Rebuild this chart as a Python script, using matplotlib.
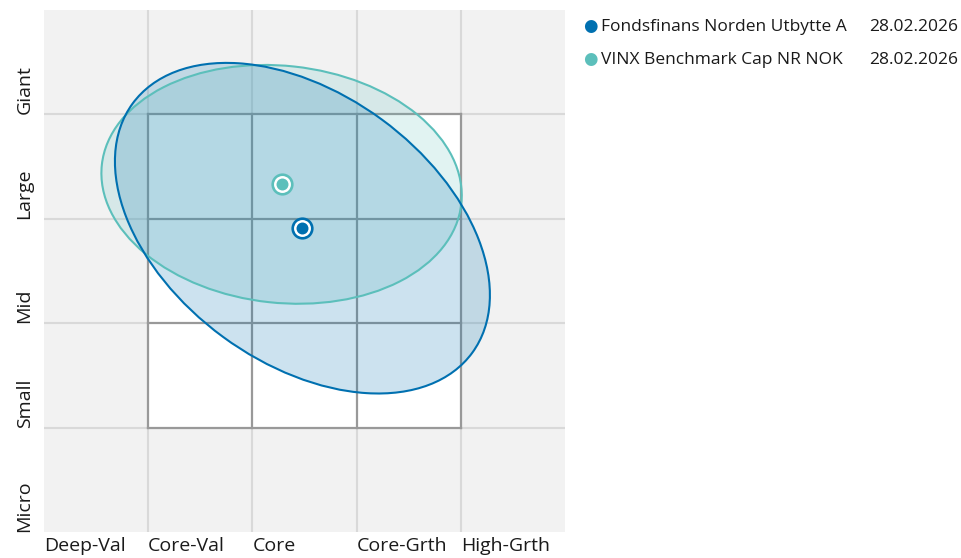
import matplotlib
matplotlib.use('Agg')
import matplotlib.pyplot as plt
from matplotlib.patches import Ellipse, Rectangle

# Dados do gráfico (estilo)
x_labels = ['Deep-Val', 'Core-Val', 'Core', 'Core-Grth', 'High-Grth']
y_labels = ['Micro', 'Small', 'Mid', 'Large', 'Giant']
names = ['Fondsfinans Norden Utbytte A', 'VINX Benchmark Cap NR NOK']
dates = ['28.02.2026', '28.02.2026']
centre_x = [2.48, 2.28]
centre_y = [2.91, 3.33]
ell_w = [4.04, 3.47]
ell_h = [2.58, 2.27]
ell_ang = [-36.2, -6.2]

cores = ['#0070b0', '#5cbfbb']
alfas = [0.2, 0.18]

plt.rcParams['font.family'] = ['Open Sans', 'DejaVu Sans']

fig = plt.figure(figsize=(9.61, 5.58), dpi=100)
ax = fig.add_axes([44 / 961, 1 - 532 / 558, 521 / 961, 522 / 558])
ax.set_xlim(0, 5)
ax.set_ylim(0, 5)
ax.set_facecolor('#f2f2f2')
for s in ax.spines.values():
    s.set_visible(False)
ax.set_xticks([])
ax.set_yticks([])

# Grade clara
for v in range(1, 5):
    ax.axvline(v, color='#d9d9d9', lw=1.5, zorder=1)
    ax.axhline(v, color='#d9d9d9', lw=1.5, zorder=1)

# Caixa branca 3x3
ax.add_patch(Rectangle((1, 1), 3, 3, facecolor='white', edgecolor='none', zorder=2))
for v in range(1, 5):
    ax.plot([v, v], [1, 4], color='#999999', lw=1.6, zorder=3)
    ax.plot([1, 4], [v, v], color='#999999', lw=1.6, zorder=3)

# Elipses (benchmark primeiro)
for i in [1, 0]:
    ax.add_patch(Ellipse((centre_x[i], centre_y[i]), ell_w[i], ell_h[i], angle=ell_ang[i],
                         facecolor=cores[i], alpha=alfas[i], edgecolor='none', zorder=4))
for i in [1, 0]:
    ax.add_patch(Ellipse((centre_x[i], centre_y[i]), ell_w[i], ell_h[i], angle=ell_ang[i],
                         facecolor='none', edgecolor=cores[i], lw=1.5, zorder=5))

# Pontos
for i in [1, 0]:
    ax.plot(centre_x[i], centre_y[i], 'o', ms=16, color=cores[i], mec='none', zorder=6)
    ax.plot(centre_x[i], centre_y[i], 'o', ms=12.2, color='white', mec='none', zorder=7)
    ax.plot(centre_x[i], centre_y[i], 'o', ms=8.6, color=cores[i], mec='none', zorder=8)

# Rótulos dos eixos
for i, lab in enumerate(x_labels):
    ax.text(i, -0.05, lab, ha='left', va='top', fontsize=14, color='#1a1a1a',
            transform=ax.transData, clip_on=False)
for i, lab in enumerate(y_labels):
    ax.text(-0.1, i, lab, ha='right', va='bottom', rotation=90, fontsize=14,
            color='#1a1a1a', clip_on=False)

# Legenda
for i in range(2):
    yy = 1 - (27 + 33 * i) / 558
    fig.text(590 / 961, yy, '\u25CF', color=cores[i], fontsize=12, ha='center', va='center')
    fig.text(601 / 961, yy, names[i], fontsize=12.5, color='#1a1a1a', ha='left', va='center')
    fig.text(869 / 961, yy, dates[i], fontsize=12.5, color='#1a1a1a', ha='left', va='center')

fig.savefig('out.png', dpi=100)
